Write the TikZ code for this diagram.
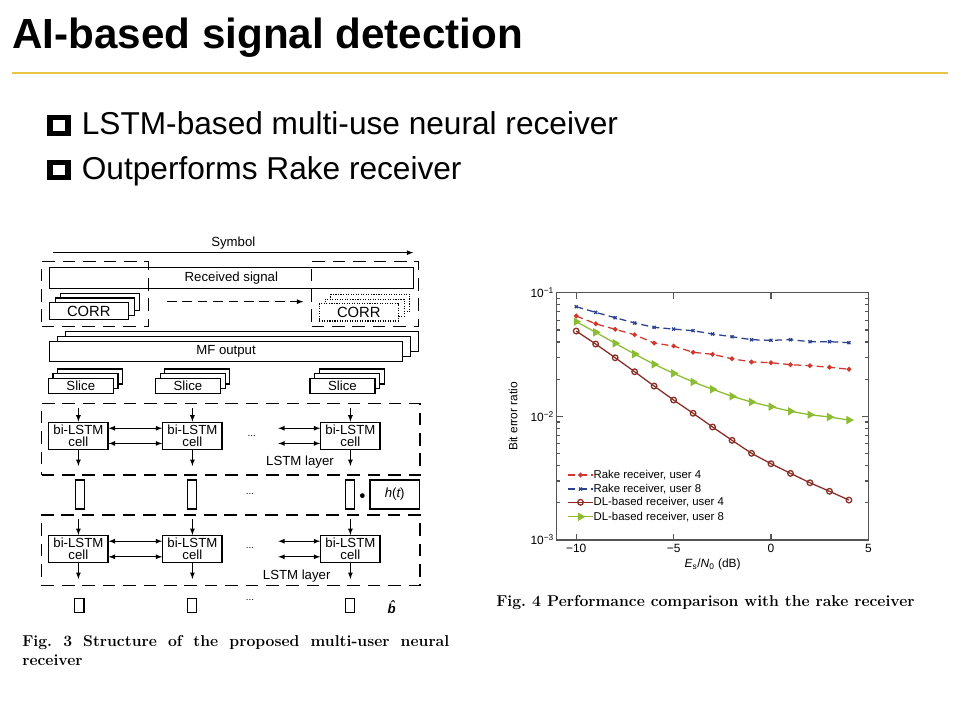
\documentclass[tikz,border=0pt]{standalone}
\usepackage{fontspec}
\newfontfamily\arial{Liberation Sans}
\usetikzlibrary{plotmarks}

\definecolor{titlegold}{RGB}{232,196,66}
\definecolor{rakered}{RGB}{210,55,45}
\definecolor{rakeblue}{RGB}{45,65,145}
\definecolor{dlbrown}{RGB}{135,45,35}
\definecolor{dlgreen}{RGB}{140,188,50}
\definecolor{axisgray}{RGB}{85,85,85}

\begin{document}
\begin{tikzpicture}[
    font=\arial\fontsize{9.4}{10}\selectfont,
    >=latex,
    labelbox/.style={draw, line width=0.8pt, fill=white, inner sep=0pt},
    groupbox/.style={draw, line width=1.1pt, dash pattern=on 9pt off 5.5pt, inner sep=0pt},
    cellbox/.style={labelbox, minimum width=1.48cm, minimum height=0.68cm, align=center,
                    font=\arial\fontsize{9.4}{8.6}\selectfont},
    slicebox/.style={labelbox, minimum width=1.625cm, minimum height=0.375cm},
    corrbox/.style={labelbox, minimum width=1.975cm, minimum height=0.43cm,
                    font=\arial\fontsize{10.5}{12}\selectfont},
    mfbox/.style={labelbox, minimum width=8.83cm, minimum height=0.5cm},
    vecbox/.style={labelbox, minimum width=0.225cm, minimum height=0.725cm},
    outbox/.style={labelbox, minimum width=0.24cm, minimum height=0.36cm},
    tinydots/.style={font=\arial\fontsize{7}{8}\selectfont},
    link/.style={->, line width=0.6pt},
    duplex/.style={<->, line width=0.6pt},
    axisline/.style={draw=axisgray, line width=0.85pt},
    ticklabel/.style={font=\arial\fontsize{8.5}{10}\selectfont},
    rakeA/.style={rakered, line width=0.9pt, dash pattern=on 5pt off 3pt,
                  mark=*, mark size=1.2pt, mark options={solid}},
    rakeB/.style={rakeblue, line width=0.9pt, dash pattern=on 5pt off 3pt,
                  mark=x, mark size=1.5pt, mark options={solid}},
    dlA/.style={dlbrown, line width=0.9pt, mark=o, mark size=2pt},
    dlB/.style={dlgreen, line width=0.9pt, mark=triangle*, mark size=2.6pt,
                mark options={rotate=-90}},
]
\useasboundingbox (0,0) rectangle (24,18);
\fill[white] (0,0) rectangle (24,18);

% Title
\node[anchor=base west, inner sep=0pt, font=\arial\bfseries\fontsize{30}{36}\selectfont]
      (title) at (0.3, 16.79) {AI-based signal detection};
\draw[titlegold, line width=2.1pt] (0.3, 16.175) -- (23.7, 16.175);

% Bullets
\node[draw, line width=3.7pt, minimum width=0.45cm, minimum height=0.39cm, inner sep=0pt]
      (boxA) at (1.475, 14.867) {};
\node[anchor=base west, inner sep=0pt, font=\arial\fontsize{22.5}{27}\selectfont]
      (pointA) at (2.04, 14.642) {LSTM-based multi-use neural receiver};
\node[draw, line width=3.7pt, minimum width=0.45cm, minimum height=0.39cm, inner sep=0pt]
      (boxB) at (1.475, 13.75) {};
\node[anchor=base west, inner sep=0pt, font=\arial\fontsize{22.5}{27}\selectfont]
      (pointB) at (2.04, 13.5) {Outperforms Rake receiver};

% ---------------- Fig. 3: receiver structure ----------------
\node (symbol) at (5.833, 11.918) {Symbol};
\coordinate (symA) at (1.333, 11.683);
\coordinate (symB) at (10.333, 11.683);
\draw[link] (symA) -- (symB);

\node[groupbox, minimum width=2.667cm, minimum height=1.625cm] (winA) at (2.375, 10.646) {};
\node[groupbox, minimum width=2.667cm, minimum height=1.625cm] (winB) at (9.125, 10.646) {};
\node[draw, line width=0.8pt, minimum width=9.1cm, minimum height=0.516cm, inner sep=0pt]
      (recv) at (5.783, 11.05) {Received signal};

% CORR stacks
\node[corrbox] (corrA3) at (2.51, 10.451) {};
\node[corrbox] (corrA2) at (2.365, 10.334) {};
\node[corrbox] (corrA) at (2.22, 10.217) {CORR};
\node[corrbox, densely dotted] (corrB3) at (9.26, 10.424) {};
\node[corrbox, densely dotted] (corrB2) at (9.115, 10.307) {};
\node[corrbox, densely dotted] (corrB) at (8.97, 10.19) {CORR};
\coordinate (sweepA) at (4.167, 10.458);
\coordinate (sweepB) at (7.583, 10.458);
\draw[link, dash pattern=on 7pt off 4pt] (sweepA) -- (sweepB);

% MF output stack
\node[mfbox] (mf3) at (6.05, 9.458) {};
\node[mfbox] (mf2) at (5.85, 9.333) {};
\node[mfbox] (mf) at (5.65, 9.208) {MF output};

% Slice stacks
\node[slicebox] (sliceA3) at (2.254, 8.588) {};
\node[slicebox] (sliceA2) at (2.137, 8.471) {};
\node[slicebox] (sliceA) at (2.02, 8.354) {Slice};
\node[slicebox] (sliceB3) at (4.934, 8.588) {};
\node[slicebox] (sliceB2) at (4.817, 8.471) {};
\node[slicebox] (sliceB) at (4.70, 8.354) {Slice};
\node[slicebox] (sliceC3) at (8.796, 8.588) {};
\node[slicebox] (sliceC2) at (8.679, 8.471) {};
\node[slicebox] (sliceC) at (8.5625, 8.354) {Slice};

% First LSTM layer
\node[groupbox, minimum width=9.458cm, minimum height=1.792cm] (layerboxA) at (5.771, 7.021) {};
\node[cellbox] (cellA1) at (1.96, 7.104) {bi-LSTM\\cell};
\node[cellbox] (cellA2) at (4.81, 7.104) {bi-LSTM\\cell};
\node[cellbox] (cellA3) at (8.76, 7.104) {bi-LSTM\\cell};
\draw[duplex] ([yshift=0.19cm]cellA1.east) -- ([yshift=0.19cm]cellA2.west);
\draw[duplex] ([yshift=-0.19cm]cellA1.east) -- ([yshift=-0.19cm]cellA2.west);
\draw[duplex] ([yshift=0.19cm]cellA3.west) -- ++(-1.05, 0);
\draw[duplex] ([yshift=-0.19cm]cellA3.west) -- ++(-1.05, 0);
\draw[link] ([yshift=0.33cm]cellA1.north) -- (cellA1.north);
\draw[link] ([yshift=0.33cm]cellA2.north) -- (cellA2.north);
\draw[link] ([yshift=0.33cm]cellA3.north) -- (cellA3.north);
\draw[link] (cellA1.south) -- ++(0, -0.4);
\draw[link] (cellA2.south) -- ++(0, -0.4);
\draw[link] (cellA3.south) -- ++(0, -0.4);
\node[tinydots] (dotsA) at (6.292, 7.1) {...};
\node (layerA) at (7.5, 6.458) {LSTM layer};

% hidden vectors
\node[vecbox] (vecA) at (1.99, 5.6375) {};
\node[vecbox] (vecB) at (4.80, 5.6375) {};
\node[vecbox] (vecC) at (8.74, 5.6375) {};
\node[tinydots] (dotsV) at (6.25, 5.66) {...};
\node[circle, fill, inner sep=0pt, minimum size=0.12cm] (prod) at (9.058, 5.61) {};
\node[labelbox, minimum width=1.233cm, minimum height=0.725cm] (hfun) at (9.867, 5.6375)
      {\itshape h\upshape(\itshape t\upshape)};

% Second LSTM layer
\node[groupbox, minimum width=9.458cm, minimum height=1.767cm] (layerboxB) at (5.771, 4.2415) {};
\node[cellbox] (cellB1) at (1.96, 4.27) {bi-LSTM\\cell};
\node[cellbox] (cellB2) at (4.81, 4.27) {bi-LSTM\\cell};
\node[cellbox] (cellB3) at (8.76, 4.27) {bi-LSTM\\cell};
\draw[duplex] ([yshift=0.2cm]cellB1.east) -- ([yshift=0.2cm]cellB2.west);
\draw[duplex] ([yshift=-0.19cm]cellB1.east) -- ([yshift=-0.19cm]cellB2.west);
\draw[duplex] ([yshift=0.2cm]cellB3.west) -- ++(-1.05, 0);
\draw[duplex] ([yshift=-0.19cm]cellB3.west) -- ++(-1.05, 0);
\draw[link] ([yshift=0.39cm]cellB1.north) -- (cellB1.north);
\draw[link] ([yshift=0.39cm]cellB2.north) -- (cellB2.north);
\draw[link] ([yshift=0.39cm]cellB3.north) -- (cellB3.north);
\draw[link] (cellB1.south) -- ++(0, -0.39);
\draw[link] (cellB2.south) -- ++(0, -0.39);
\draw[link] (cellB3.south) -- ++(0, -0.39);
\node[tinydots] (dotsB) at (6.25, 4.3) {...};
\node (layerB) at (7.417, 3.6) {LSTM layer};

% decided bits
\node[outbox] (outA) at (1.98, 2.8625) {};
\node[outbox] (outB) at (4.80, 2.8625) {};
\node[outbox] (outC) at (8.75, 2.8625) {};
\node[tinydots] (dotsO) at (6.25, 3.0) {...};
\node[font=\arial\bfseries\itshape\fontsize{9.4}{10}\selectfont] (bhat) at (9.79, 2.82) {\^{b}};

\node[anchor=base west, inner sep=0pt, text width=10.675cm, align=justify,
      font=\bfseries\fontsize{11.2}{13.7}\selectfont]
      (capA) at (0.55, 1.833) {Fig.~3\hspace{0.7em}Structure of the proposed multi-user neural\linebreak receiver};

% ---------------- Fig. 4: BER curves ----------------
\begin{scope}[shift={(19.275, 4.5)}, x=0.487cm, y=3.091cm]
\draw[axisline] (-11, 0) rectangle (5, 2);
\foreach \t in {-10, -5, 0} {
    \draw[axisline] (\t, 0) -- ++(0, 0.15cm);
    \draw[axisline] (\t, 2) -- ++(0, -0.15cm);
}
\draw[axisline] (-11, 1) -- ++(0.15cm, 0);
\draw[axisline] (5, 1) -- ++(-0.15cm, 0);
\foreach \d in {0, 1} {
    \foreach \k in {2, ..., 9} {
        \draw[axisline] (-11, {\d + log10(\k)}) -- ++(0.09cm, 0);
        \draw[axisline] (5, {\d + log10(\k)}) -- ++(-0.09cm, 0);
    }
}
\node[ticklabel] (xtA) at (-10, -0.067) {−10};
\node[ticklabel] (xtB) at (-5, -0.067) {−5};
\node[ticklabel] (xtC) at (0, -0.067) {0};
\node[ticklabel] (xtD) at (5, -0.067) {5};
\node[ticklabel, anchor=east, inner sep=1pt] (ytA) at (-11.05, 2) {10\textsuperscript{−1}};
\node[ticklabel, anchor=east, inner sep=1pt] (ytB) at (-11.05, 1) {10\textsuperscript{−2}};
\node[ticklabel, anchor=east, inner sep=1pt] (ytC) at (-11.05, 0) {10\textsuperscript{−3}};
\node[ticklabel, rotate=90] (ylab) at (-13.24, 1) {Bit error ratio};
\node[ticklabel] (xlab) at (-3, -0.2) {\itshape E\upshape\textsubscript{s}/\itshape N\upshape\textsubscript{0} (dB)};

% curves
\draw[rakeB] plot coordinates {(-10,1.887) (-9,1.841) (-8,1.798) (-7,1.755) (-6,1.720)
    (-5,1.706) (-4,1.693) (-3,1.666) (-2,1.644) (-1,1.620) (0,1.615) (1,1.620)
    (2,1.604) (3,1.604) (4,1.596)};
\draw[rakeA] plot coordinates {(-10,1.812) (-9,1.749) (-8,1.704) (-7,1.660) (-6,1.593)
    (-5,1.569) (-4,1.518) (-3,1.502) (-2,1.466) (-1,1.440) (0,1.434) (1,1.418)
    (2,1.410) (3,1.397) (4,1.381)};
\draw[dlB] plot coordinates {(-10,1.766) (-9,1.680) (-8,1.591) (-7,1.504) (-6,1.421)
    (-5,1.348) (-4,1.278) (-3,1.219) (-2,1.162) (-1,1.116) (0,1.078) (1,1.041)
    (2,1.013) (3,0.995) (4,0.970)};
\draw[dlA] plot coordinates {(-10,1.690) (-9,1.585) (-8,1.474) (-7,1.361) (-6,1.245)
    (-5,1.132) (-4,1.025) (-3,0.914) (-2,0.806) (-1,0.701) (0,0.617) (1,0.539)
    (2,0.463) (3,0.394) (4,0.323)};

% legend
\draw[rakeA, mark phase=2, mark repeat=5] plot coordinates {(-10.41,0.526) (-9.78,0.526) (-9.15,0.526)};
\draw[rakeB, mark phase=2, mark repeat=5] plot coordinates {(-10.41,0.412) (-9.78,0.412) (-9.15,0.412)};
\draw[dlA, mark phase=2, mark repeat=5] plot coordinates {(-10.41,0.305) (-9.78,0.305) (-9.15,0.305)};
\draw[dlB, mark phase=2, mark repeat=5] plot coordinates {(-10.41,0.188) (-9.78,0.188) (-9.15,0.188)};
\node[anchor=west, inner sep=0pt, font=\arial\fontsize{8.1}{9}\selectfont] (legA) at (-9.12, 0.526) {Rake receiver, user 4};
\node[anchor=west, inner sep=0pt, font=\arial\fontsize{8.1}{9}\selectfont] (legB) at (-9.12, 0.412) {Rake receiver, user 8};
\node[anchor=west, inner sep=0pt, font=\arial\fontsize{8.1}{9}\selectfont] (legC) at (-9.12, 0.305) {DL-based receiver, user 4};
\node[anchor=west, inner sep=0pt, font=\arial\fontsize{8.1}{9}\selectfont] (legD) at (-9.12, 0.188) {DL-based receiver, user 8};
\end{scope}

\node[anchor=base west, inner sep=0pt, font=\bfseries\fontsize{11.2}{13.7}\selectfont]
      (capB) at (12.4, 2.8375) {Fig.~4\hspace{0.4em}Performance comparison with the rake receiver};

\end{tikzpicture}
\end{document}
